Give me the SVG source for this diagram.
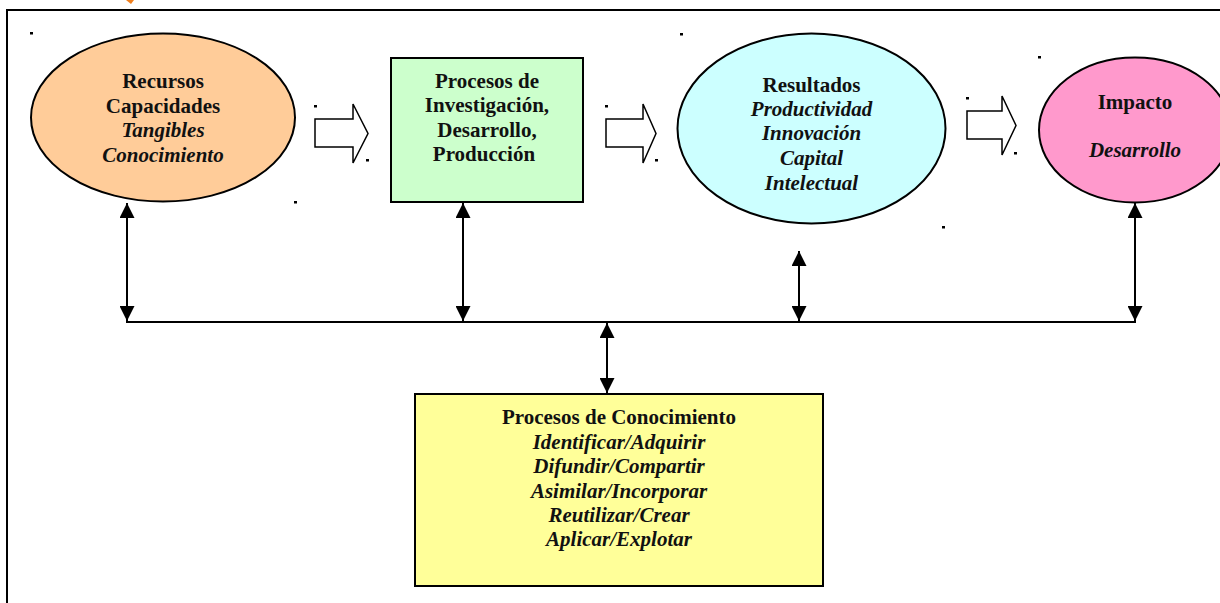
<svg xmlns="http://www.w3.org/2000/svg" width="1220" height="603" viewBox="0 0 1220 603">
<style>
.node{stroke:#000;stroke-width:2}
.t{font-family:"Liberation Serif","Times New Roman",serif;font-size:21px;font-weight:bold;text-anchor:middle;fill:#111}
.i{font-style:italic}
.conn{stroke:#000;stroke-width:2;fill:none}
.blk{fill:#fff;stroke:#000;stroke-width:1.5}
.dot{fill:#000}
</style>
<defs>
<marker id="ah" viewBox="0 0 15 15" refX="15" refY="7.5" markerWidth="15" markerHeight="15" markerUnits="userSpaceOnUse" orient="auto-start-reverse">
<path d="M0,0 L15,7.5 L0,15 z" fill="#000"/>
</marker>
</defs>
<rect width="1220" height="603" fill="#fff"/>
<path d="M126,0 L134,0 L131,4 Z" fill="#f07f1e"/>
<path d="M7,603 V10 H1220" fill="none" stroke="#000" stroke-width="2"/>
<g id="dots">
<rect class="dot" x="30" y="32" width="3" height="2.5"/>
<rect class="dot" x="314" y="105" width="3" height="2.5"/>
<rect class="dot" x="366" y="159" width="3" height="2.5"/>
<rect class="dot" x="294" y="201" width="3" height="2.5"/>
<rect class="dot" x="605" y="105" width="3" height="2.5"/>
<rect class="dot" x="655" y="159" width="3" height="2.5"/>
<rect class="dot" x="680" y="33" width="3" height="2.5"/>
<rect class="dot" x="966" y="97" width="3" height="2.5"/>
<rect class="dot" x="1014" y="152" width="3" height="2.5"/>
<rect class="dot" x="1038" y="56" width="3" height="2.5"/>
<rect class="dot" x="942" y="226" width="3" height="2.5"/>
</g>
<g id="recursos">
<ellipse class="node" cx="163" cy="117.5" rx="132" ry="84" fill="#ffcc99"/>
<text class="t" x="163" y="88">Recursos</text>
<text class="t" x="163" y="112.5">Capacidades</text>
<text class="t i" x="163" y="137">Tangibles</text>
<text class="t i" x="163" y="161.5">Conocimiento</text>
</g>
<g id="procesos-id">
<rect class="node" x="391" y="58" width="192" height="144" fill="#ccffcc"/>
<text class="t" x="487" y="88">Procesos de</text>
<text class="t" x="487" y="112">Investigación,</text>
<text class="t" x="487" y="136.5">Desarrollo,</text>
<text class="t" x="484" y="160.5">Producción</text>
</g>
<g id="resultados">
<ellipse class="node" cx="811.5" cy="128.5" rx="134" ry="95" fill="#ccffff"/>
<text class="t" x="811.5" y="91.5">Resultados</text>
<text class="t i" x="811.5" y="115.5">Productividad</text>
<text class="t i" x="811.5" y="140">Innovación</text>
<text class="t i" x="811.5" y="165">Capital</text>
<text class="t i" x="811.5" y="189.5">Intelectual</text>
</g>
<g id="impacto">
<ellipse class="node" cx="1135" cy="130" rx="96" ry="72.5" fill="#ff99cc"/>
<text class="t" x="1135" y="109">Impacto</text>
<text class="t i" x="1135" y="157">Desarrollo</text>
</g>
<g id="procesos-conocimiento">
<rect class="node" x="415" y="394" width="408" height="192" fill="#ffff99"/>
<text class="t" x="619" y="424">Procesos de Conocimiento</text>
<text class="t i" x="619" y="448.5">Identificar/Adquirir</text>
<text class="t i" x="619" y="473">Difundir/Compartir</text>
<text class="t i" x="619" y="497.5">Asimilar/Incorporar</text>
<text class="t i" x="619" y="521.5">Reutilizar/Crear</text>
<text class="t i" x="619" y="546">Aplicar/Explotar</text>
</g>
<g id="connectors">
<polygon class="blk" points="315,119 353,119 353,104 368,133.5 353,163 353,147 315,147"/>
<polygon class="blk" points="606,119 643,119 643,104 656,133.5 643,163 643,147 606,147"/>
<polygon class="blk" points="967,111 1002,111 1002,96 1016,125.5 1002,155 1002,139 967,139"/>
<path class="conn" d="M126,322 H1136"/>
<line class="conn" x1="127" y1="203" x2="127" y2="321" marker-start="url(#ah)" marker-end="url(#ah)"/>
<line class="conn" x1="463" y1="203" x2="463" y2="321" marker-start="url(#ah)" marker-end="url(#ah)"/>
<line class="conn" x1="799" y1="251" x2="799" y2="321" marker-start="url(#ah)" marker-end="url(#ah)"/>
<line class="conn" x1="1135" y1="203" x2="1135" y2="321" marker-start="url(#ah)" marker-end="url(#ah)"/>
<line class="conn" x1="607" y1="323" x2="607" y2="393" marker-start="url(#ah)" marker-end="url(#ah)"/>
</g>
</svg>
